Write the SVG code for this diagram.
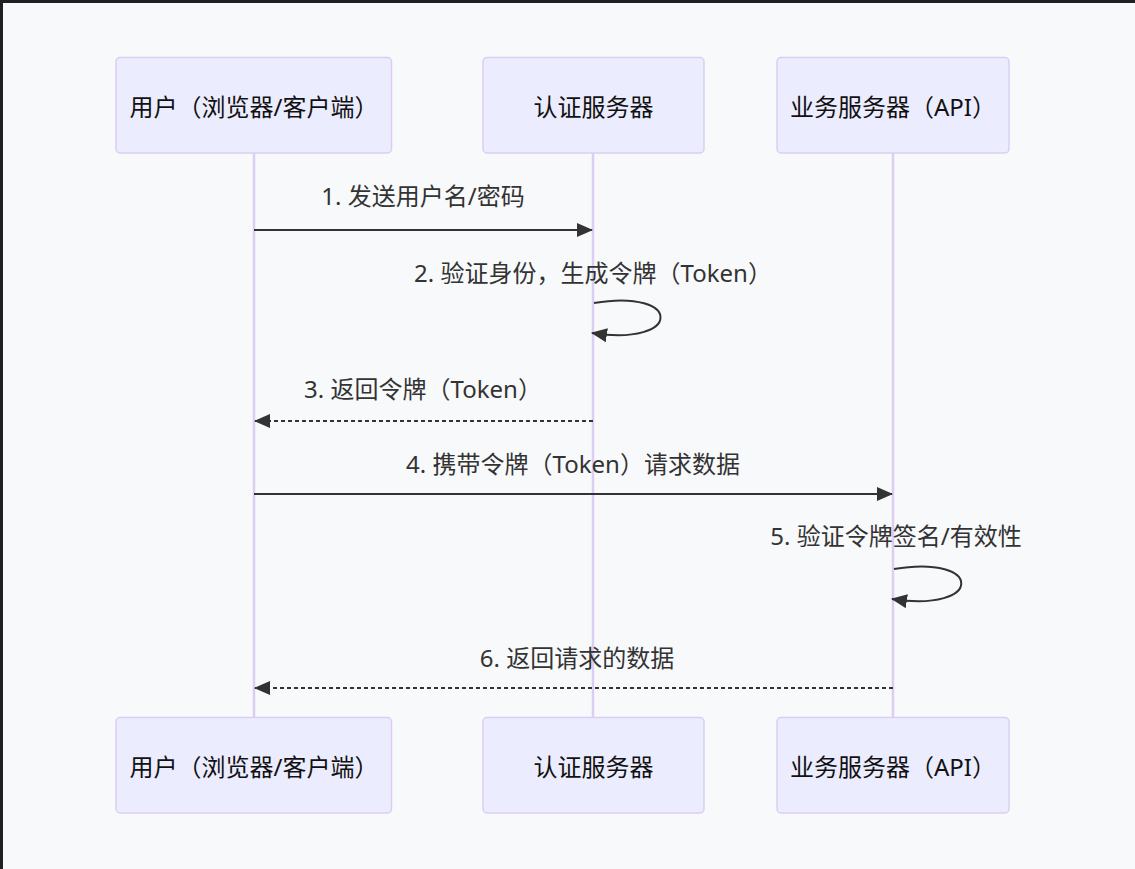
<svg xmlns="http://www.w3.org/2000/svg" width="1135" height="869" viewBox="0 0 1135 869">
<style>
.actor rect{fill:#ECECFF;stroke:#DACEF3;stroke-width:1.5}
.actor text{font-family:"Noto Sans","Noto Sans CJK SC",sans-serif;font-size:24px;fill:#111;text-anchor:middle}
.life{stroke:#DACEF3;stroke-width:2.5;fill:none}
.msg{stroke:#333;stroke-width:2;fill:none}
.dash{stroke-dasharray:4,3}
.lbl{font-family:"Noto Sans","Noto Sans CJK SC",sans-serif;font-size:24px;fill:#333;text-anchor:middle}
</style>
<defs>
<marker id="ah" viewBox="0 0 16 14" refX="15" refY="7" markerWidth="16" markerHeight="14" markerUnits="userSpaceOnUse" orient="auto">
<path d="M0,0 L16,7 L0,14 Z" fill="#333"/>
</marker>
</defs>
<rect x="0" y="0" width="1135" height="869" fill="#202020"/>
<rect x="3" y="3" width="1132" height="866" fill="#F8F9FB"/>
<g id="lifelines">
<line class="life" x1="254" y1="153" x2="254" y2="717"/>
<line class="life" x1="593" y1="153" x2="593" y2="717"/>
<line class="life" x1="893" y1="153" x2="893" y2="717"/>
</g>
<g id="actor-user-top" class="actor"><rect x="116" y="57.5" width="275.5" height="95.5" rx="4"/><text x="254" y="116">用户（浏览器/客户端）</text></g>
<g id="actor-auth-top" class="actor"><rect x="483" y="57.5" width="221" height="95.5" rx="4"/><text x="593.5" y="116">认证服务器</text></g>
<g id="actor-api-top" class="actor"><rect x="777" y="57.5" width="232" height="95.5" rx="4"/><text x="893" y="116">业务服务器（API）</text></g>
<g id="actor-user-bottom" class="actor"><rect x="116" y="717.5" width="275.5" height="95.5" rx="4"/><text x="254" y="776">用户（浏览器/客户端）</text></g>
<g id="actor-auth-bottom" class="actor"><rect x="483" y="717.5" width="221" height="95.5" rx="4"/><text x="593.5" y="776">认证服务器</text></g>
<g id="actor-api-bottom" class="actor"><rect x="777" y="717.5" width="232" height="95.5" rx="4"/><text x="893" y="776">业务服务器（API）</text></g>
<g id="connectors">
<line class="msg" x1="254" y1="230" x2="592" y2="230" marker-end="url(#ah)"/>
<path class="msg" d="M594,303 C683,288 683,347 592,333" marker-end="url(#ah)"/>
<line class="msg dash" x1="593" y1="421" x2="255" y2="421" marker-end="url(#ah)"/>
<line class="msg" x1="254" y1="494" x2="892" y2="494" marker-end="url(#ah)"/>
<path class="msg" d="M894,569 C984,554 984,613 892,599" marker-end="url(#ah)"/>
<line class="msg dash" x1="893" y1="688" x2="255" y2="688" marker-end="url(#ah)"/>
</g>
<g id="labels">
<text class="lbl" x="423" y="205">1. 发送用户名/密码</text>
<text class="lbl" x="593" y="282">2. 验证身份，生成令牌（Token）</text>
<text class="lbl" x="423" y="398">3. 返回令牌（Token）</text>
<text class="lbl" x="573" y="473">4. 携带令牌（Token）请求数据</text>
<text class="lbl" x="896" y="545">5. 验证令牌签名/有效性</text>
<text class="lbl" x="577" y="667">6. 返回请求的数据</text>
</g>
</svg>
